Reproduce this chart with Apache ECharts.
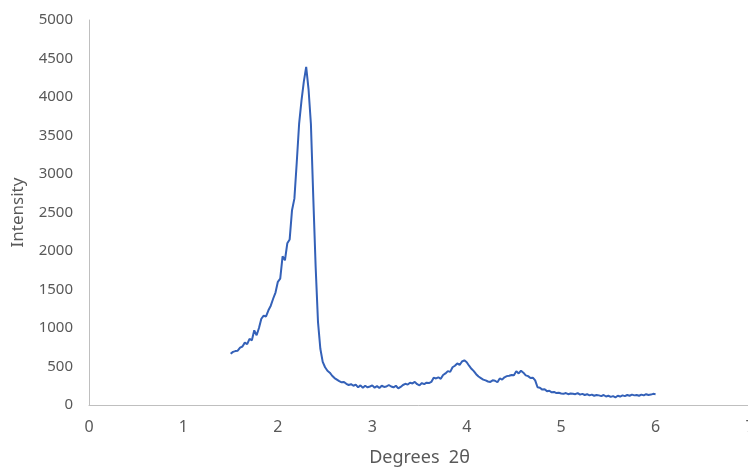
<!DOCTYPE html>
<html>
<head>
    <meta charset="utf-8">
    <title>XRD pattern</title>
    <script src="https://cdn.jsdelivr.net/npm/echarts@6/dist/echarts.min.js"></script>
    <style>
        html, body { margin: 0; padding: 0; background: #fff; }
        #main { width: 748px; height: 467px; }
    </style>
</head>
<body>
<div id="main"></div>
<script type="text/javascript">
    // values (degrees 2theta vs intensity)
    var degrees = [
        1.500, 1.525, 1.550, 1.575, 1.600, 1.625, 1.650, 1.675, 1.700, 1.725,
        1.750, 1.775, 1.800, 1.825, 1.850, 1.875, 1.900, 1.925, 1.950, 1.975,
        2.000, 2.025, 2.050, 2.075, 2.100, 2.125, 2.150, 2.175, 2.200, 2.225,
        2.250, 2.275, 2.300, 2.325, 2.350, 2.375, 2.400, 2.425, 2.450, 2.475,
        2.500, 2.525, 2.550, 2.575, 2.600, 2.625, 2.650, 2.675, 2.700, 2.725,
        2.750, 2.775, 2.800, 2.825, 2.850, 2.875, 2.900, 2.925, 2.950, 2.975,
        3.000, 3.025, 3.050, 3.075, 3.100, 3.125, 3.150, 3.175, 3.200, 3.225,
        3.250, 3.275, 3.300, 3.325, 3.350, 3.375, 3.400, 3.425, 3.450, 3.475,
        3.500, 3.525, 3.550, 3.575, 3.600, 3.625, 3.650, 3.675, 3.700, 3.725,
        3.750, 3.775, 3.800, 3.825, 3.850, 3.875, 3.900, 3.925, 3.950, 3.975,
        4.000, 4.025, 4.050, 4.075, 4.100, 4.125, 4.150, 4.175, 4.200, 4.225,
        4.250, 4.275, 4.300, 4.325, 4.350, 4.375, 4.400, 4.425, 4.450, 4.475,
        4.500, 4.525, 4.550, 4.575, 4.600, 4.625, 4.650, 4.675, 4.700, 4.725,
        4.750, 4.775, 4.800, 4.825, 4.850, 4.875, 4.900, 4.925, 4.950, 4.975,
        5.000, 5.025, 5.050, 5.075, 5.100, 5.125, 5.150, 5.175, 5.200, 5.225,
        5.250, 5.275, 5.300, 5.325, 5.350, 5.375, 5.400, 5.425, 5.450, 5.475,
        5.500, 5.525, 5.550, 5.575, 5.600, 5.625, 5.650, 5.675, 5.700, 5.725,
        5.750, 5.775, 5.800, 5.825, 5.850, 5.875, 5.900, 5.925, 5.950, 5.975,
        6.000
    ];
    var intensity = [
        665, 690, 700, 705, 745, 760, 810, 790, 860, 840,
        970, 905, 1000, 1120, 1160, 1150, 1230, 1290, 1380, 1460,
        1600, 1640, 1930, 1880, 2100, 2150, 2530, 2680, 3150, 3650,
        3950, 4200, 4390, 4100, 3650, 2700, 1800, 1080, 730, 560,
        490, 445, 420, 380, 350, 330, 310, 295, 300, 275,
        260, 270, 250, 265, 230, 255, 225, 250, 230, 240,
        255, 225, 245, 220, 250, 235, 240, 260, 240, 230,
        250, 215, 235, 260, 275, 265, 290, 280, 300, 270,
        255, 285, 270, 290, 285, 300, 355, 345, 360, 340,
        390, 410, 440, 430, 490, 510, 540, 520, 565, 580,
        555, 510, 470, 440, 400, 370, 350, 330, 320, 305,
        300, 320, 315, 295, 345, 330, 360, 375, 380, 390,
        385, 440, 410, 445, 420, 385, 375, 350, 355, 320,
        230, 225, 200, 205, 180, 185, 165, 170, 155, 160,
        150, 145, 155, 140, 150, 145, 140, 155, 135, 145,
        130, 140, 125, 135, 120, 130, 125, 115, 130, 110,
        120, 105, 115, 100, 120, 110, 125, 115, 130, 120,
        135, 125, 130, 120, 135, 125, 140, 130, 135, 145,
        140
    ];
    var yTicks = [0, 500, 1000, 1500, 2000, 2500, 3000, 3500, 4000, 4500, 5000];

    var points = degrees.map(function (d, i) { return [d, intensity[i]]; });

    var chart = echarts.init(document.getElementById('main'));
    var labelFont = 'Noto Sans';
    var option = {
        animation: false,
        grid: {
            left: 89,
            top: 20,
            width: 661,
            height: 385,
            outerBoundsMode: 'none'
        },
        xAxis: {
            type: 'value',
            min: 0,
            max: 7,
            interval: 1,
            name: 'Degrees  2θ',
            nameLocation: 'middle',
            nameGap: 44,
            nameTextStyle: { color: '#595959', fontSize: 18, fontFamily: labelFont },
            axisLine: { show: true, lineStyle: { color: '#bfbfbf', width: 1 } },
            axisTick: { show: false },
            splitLine: { show: false },
            axisLabel: {
                color: '#595959',
                fontSize: 16,
                fontFamily: labelFont,
                margin: 14
            }
        },
        yAxis: {
            type: 'value',
            min: yTicks[0],
            max: yTicks[yTicks.length - 1],
            interval: 500,
            name: 'Intensity',
            nameLocation: 'middle',
            nameGap: 62,
            nameRotate: 90,
            nameTextStyle: { color: '#595959', fontSize: 17, fontFamily: labelFont },
            axisLine: { show: true, lineStyle: { color: '#bfbfbf', width: 1 } },
            axisTick: { show: false },
            splitLine: { show: false },
            axisLabel: {
                color: '#595959',
                fontSize: 15,
                fontFamily: labelFont,
                margin: 16,
                formatter: function (v) { return String(v); }
            }
        },
        series: [
            {
                type: 'line',
                data: points,
                showSymbol: false,
                smooth: false,
                lineStyle: { color: '#3461b8', width: 2 }
            }
        ]
    };
    chart.setOption(option);
</script>
</body>
</html>
